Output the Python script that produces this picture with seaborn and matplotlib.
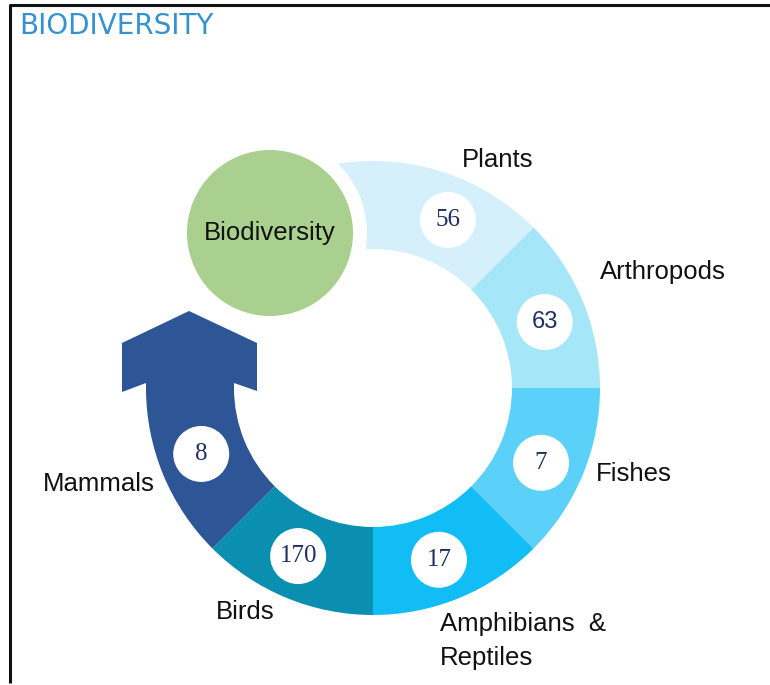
import numpy as np
import matplotlib
matplotlib.use('Agg')
import matplotlib.pyplot as plt
from matplotlib.patches import Wedge, Circle, Polygon
import seaborn as sns

sns.set_theme(style='white')
plt.rcParams['font.family'] = ['Liberation Sans', 'DejaVu Sans']

# データ
categories = ['Plants', 'Arthropods', 'Fishes', 'Amphibians  &\nReptiles', 'Birds', 'Mammals']
values = [56, 63, 7, 17, 170, 8]
value_fonts = ['Liberation Serif', 'Liberation Sans', 'Liberation Serif',
               'Liberation Serif', 'Liberation Serif', 'Liberation Serif']
colors = sns.color_palette(['#d5effb', '#a6e6f9', '#5bd0f8', '#12bcf4', '#0b8fb0', '#2e5596'])
center_label = 'Biodiversity'
title = 'BIODIVERSITY'

# レイアウト (画像座標, y は下向き)
W, H = 770, 685
cx, cy = 373, 388
r_out, r_in = 227, 139
r_val = 184
bio_xy, bio_r = (270, 233), 83
label_pos = [(498, 160, 'center'), (600, 272, 'left'), (596, 474, 'left'),
             (440, 641, 'left'), (245, 612, 'center'), (155, 484, 'right')]

fig = plt.figure(figsize=(W / 100, H / 100), dpi=100)
ax = fig.add_axes([0, 0, 1, 1])
ax.set_xlim(0, W)
ax.set_ylim(H, 0)
ax.set_aspect('equal')
ax.axis('off')

# リング (各 45 度, 上から時計回り)
for i, (cat, val) in enumerate(zip(categories, values)):
    a_hi = 90 - 45 * i
    a_lo = a_hi - 45
    draw_hi = a_hi + 45 if i == 0 else a_hi
    ax.add_patch(Wedge((cx, cy), r_out, -draw_hi, -a_lo, width=r_out - r_in,
                       facecolor=colors[i], edgecolor='none', zorder=1))
    mid = np.deg2rad((a_hi + a_lo) / 2 - 1.5)
    vx, vy = cx + r_val * np.cos(mid), cy - r_val * np.sin(mid)
    ax.add_patch(Circle((vx, vy), 28, facecolor='white', edgecolor='none', zorder=4))
    fs = 17 if value_fonts[i] == 'Liberation Sans' else 18
    ax.text(vx, vy, str(val), ha='center', va='center', fontsize=fs,
            family=value_fonts[i], color='#1f3060', zorder=5)
    lx, ly, ha = label_pos[i]
    ax.text(lx, ly, cat, ha=ha, va='center', fontsize=18.5, color='#111111',
            linespacing=1.55, zorder=5)

# 矢印 (Mammals の先端)
xo, xi = cx - r_out, cx - r_in
arrow = [(xo, cy + 1), (xo, 383), (122, 392), (122, 343), (189, 311),
         (257, 343), (257, 391), (xi, 383), (xi, cy + 1)]
ax.add_patch(Polygon(arrow, closed=True, facecolor=colors[5], edgecolor='none', zorder=1))

# 中央の円
ax.add_patch(Circle(bio_xy, bio_r + 14, facecolor='white', edgecolor='none', zorder=2))
ax.add_patch(Circle(bio_xy, bio_r, facecolor='#a9d08e', edgecolor='none', zorder=3))
ax.text(bio_xy[0], bio_xy[1], center_label, ha='center', va='center', fontsize=18.5,
        color='#111111', zorder=5)

# タイトルと枠
ax.text(19, 26, title, ha='left', va='center', fontsize=20, color='#3592cf',
        family=['DejaVu Sans'])
ax.plot([10, 10, W], [H - 2, 5, 5], color='#111111', lw=2.2, solid_capstyle='butt',
        zorder=6)

fig.savefig('out.png', dpi=100)
